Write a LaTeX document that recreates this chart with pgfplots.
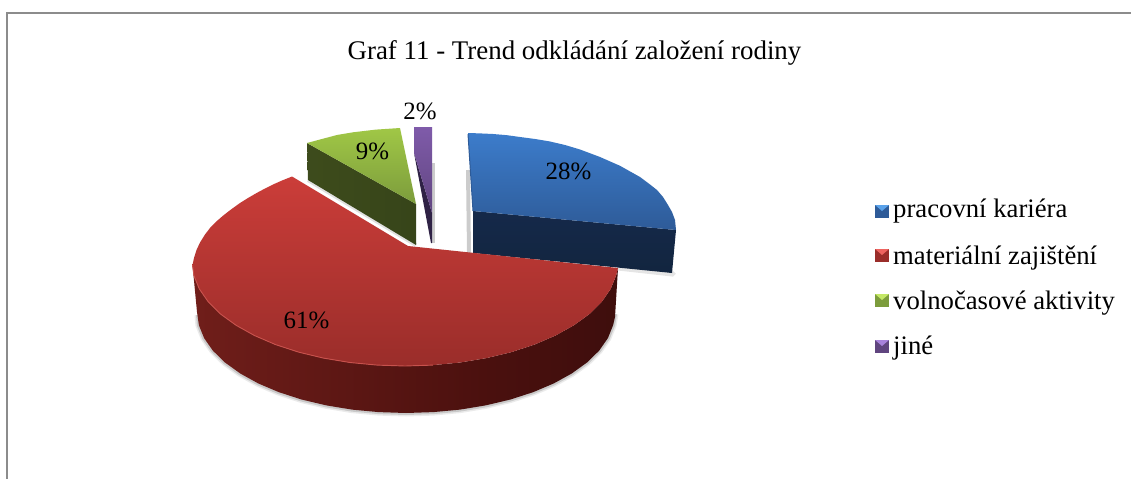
\documentclass[border=0pt]{standalone}
\usepackage{pgfplots}
\pgfplotsset{compat=1.18}
\usepackage{fontspec}
\setmainfont{Liberation Serif}
\definecolor{rs0}{HTML}{8E2F2A}
\definecolor{rs1}{HTML}{701E1A}
\definecolor{rs2}{HTML}{4A100E}
\definecolor{rs3}{HTML}{3C0D0C}
\definecolor{rs4}{HTML}{481410}
\pgfdeclarehorizontalshading{redside}{100bp}{color(0bp)=(rs0);color(25bp)=(rs1);color(60bp)=(rs2);color(78bp)=(rs3);color(100bp)=(rs4)}
\definecolor{gs0}{HTML}{414F1D}
\definecolor{gs1}{HTML}{334118}
\pgfdeclarehorizontalshading{greenside}{100bp}{color(0bp)=(gs0);color(100bp)=(gs1)}
\definecolor{Gtop}{HTML}{A0C746}
\definecolor{Gbot}{HTML}{7C9C3C}
\definecolor{Ptop}{HTML}{7F5BAA}
\definecolor{Pbot}{HTML}{60457F}
\definecolor{PurpDark}{HTML}{2F2245}
\definecolor{Btop}{HTML}{3C7CCB}
\definecolor{Bbot}{HTML}{2E5B98}
\definecolor{Bdark1}{HTML}{15294A}
\definecolor{Bdark2}{HTML}{12253F}
\definecolor{Rtop}{HTML}{CB3D39}
\definecolor{Rbot}{HTML}{9A2D2A}
\definecolor{Rrim}{HTML}{C8524D}
\definecolor{BL}{HTML}{5AA2EA}
\definecolor{RL}{HTML}{EE6460}
\definecolor{GL}{HTML}{C4E866}
\definecolor{PL}{HTML}{A882DC}
\definecolor{Frame}{HTML}{8C8C8C}
\newcommand{\Px}[1]{\fontsize{#1}{#1}\selectfont}
\begin{document}
\begin{tikzpicture}
\begin{axis}[
  scale only axis, width=1131bp, height=479bp,
  xmin=0, xmax=1131, ymin=0, ymax=479, y dir=reverse,
  axis lines=none, clip=true,
  every axis plot/.append style={draw=none, mark=none},
]
% page background
\addplot[fill=white] coordinates {(0,0) (1131,0) (1131,479) (0,479)} --cycle;
% frame
\addplot[draw=Frame, line width=2bp] coordinates {(7,479) (7,13)};
\addplot[draw=Frame, line width=2bp] coordinates {(6,13) (1131,13)};

% soft shadows, stroked under the slices
\addplot[draw=black, draw opacity=0.08, line width=7bp, line join=round] coordinates {(198,315) (198.9,325.2) (204.1,338.1) (212.9,350.7) (225,362.5) (240.3,373.5) (258.2,383.4) (278.7,392.1) (301.5,399.5) (326,405.3) (351.9,409.6) (378.6,412.1) (406,413) (433.4,412.1) (460.1,409.6) (486,405.3) (510.5,399.5) (533.3,392.1) (553.8,383.4) (571.7,373.5) (587,362.5) (599.1,350.7) (607.9,338.1) (613.1,325.2) (615,314)};
\addplot[draw=black, draw opacity=0.14, line width=4bp, line join=round] coordinates {(198,315) (198.9,325.2) (204.1,338.1) (212.9,350.7) (225,362.5) (240.3,373.5) (258.2,383.4) (278.7,392.1) (301.5,399.5) (326,405.3) (351.9,409.6) (378.6,412.1) (406,413) (433.4,412.1) (460.1,409.6) (486,405.3) (510.5,399.5) (533.3,392.1) (553.8,383.4) (571.7,373.5) (587,362.5) (599.1,350.7) (607.9,338.1) (613.1,325.2) (615,314)};
\addplot[draw=black, draw opacity=0.10, line width=5bp] coordinates {(618,268) (672,274) (674,272)};
\addplot[draw=black, draw opacity=0.20, line width=4bp] coordinates {(468,170) (469,253)};
\addplot[draw=black, draw opacity=0.20, line width=4bp] coordinates {(433,163) (433,243)};
\addplot[draw=black, draw opacity=0.12, line width=4bp] coordinates {(308,180) (416,245)};

% green slice
\addplot[shading=greenside] coordinates {(307,143) (416,204) (416,245) (308,180)} --cycle;
\addplot[shade, top color=Gtop, bottom color=Gbot] coordinates {(307,143) (320,139.5) (337,135) (353,132.3) (376,129.6) (400,128) (416,204)} --cycle;

% purple slice
\addplot[fill=PurpDark] coordinates {(414,153) (432,213) (432,243) (431,243)} --cycle;
\addplot[shade, top color=Ptop, bottom color=Pbot] coordinates {(414,127) (432,127) (432,213) (414,153)} --cycle;

% blue slice
\addplot[shade, top color=Bdark1, bottom color=Bdark2] coordinates {(473,211) (676,230) (672,273) (473,253)} --cycle;
\addplot[shade, top color=Btop, bottom color=Bbot] coordinates {(468,133) (480,133.4) (493,134) (507,135.2) (520,137) (535,139) (550,141.5) (565,145) (580,149.5) (600,157) (620,165.8) (640,177) (650,184.5) (657,190) (663,197) (668,205) (672,212) (675,220) (676,230) (473,211)} --cycle;
\addplot[draw=Bbot, line width=1bp] coordinates {(468,134) (473,211)};

% red slice: side wall
\addplot[shading=redside] coordinates {(618,268) (616.1,275.6) (610.7,288.9) (601.8,301.8) (589.5,314) (573.9,325.3) (555.6,335.5) (534.7,344.5) (511.5,352.1) (486.6,358.1) (460.1,362.5) (432.9,365.1) (405,366) (377.1,365.1) (349.9,362.5) (323.4,358.1) (298.5,352.1) (275.3,344.5) (254.4,335.5) (236.1,325.3) (220.5,314) (208.2,301.8) (199.3,288.9) (193.9,275.6) (192.5,265) (197,312) (198.9,325.2) (204.1,338.1) (212.9,350.7) (225,362.5) (240.3,373.5) (258.2,383.4) (278.7,392.1) (301.5,399.5) (326,405.3) (351.9,409.6) (378.6,412.1) (406,413) (433.4,412.1) (460.1,409.6) (486,405.3) (510.5,399.5) (533.3,392.1) (553.8,383.4) (571.7,373.5) (587,362.5) (599.1,350.7) (607.9,338.1) (613.1,325.2) (615,317)} --cycle;
% red slice: top
\addplot[shade, top color=Rtop, bottom color=Rbot] coordinates {(408,246) (618,268) (616.1,275.6) (610.7,288.9) (601.8,301.8) (589.5,314) (573.9,325.3) (555.6,335.5) (534.7,344.5) (511.5,352.1) (486.6,358.1) (460.1,362.5) (432.9,365.1) (405,366) (377.1,365.1) (349.9,362.5) (323.4,358.1) (298.5,352.1) (275.3,344.5) (254.4,335.5) (236.1,325.3) (220.5,314) (208.2,301.8) (199.3,288.9) (193.9,275.6) (192.5,265) (194,258) (196.5,250) (200,242.5) (205,234.5) (210,228) (216,221.8) (223,215.7) (231,209.5) (240,203) (248,198) (257,192.8) (265,188.5) (273,184.5) (282,180.5) (292,176.5)} --cycle;
% rim highlight
\addplot[draw=Rrim, line width=0.9bp, line join=round] coordinates {(192.5,265) (193.9,275.6) (199.3,288.9) (208.2,301.8) (220.5,314) (236.1,325.3) (254.4,335.5) (275.3,344.5) (298.5,352.1) (323.4,358.1) (349.9,362.5) (377.1,365.1) (405,366) (432.9,365.1)};

% legend swatches
\addplot[fill=Bbot] coordinates {(875,205) (889,205) (889,218) (875,218)} --cycle;
\addplot[fill=BL] coordinates {(875,205) (889,205) (882,211)} --cycle;
\addplot[fill=Rbot] coordinates {(875,249) (889,249) (889,262) (875,262)} --cycle;
\addplot[fill=RL] coordinates {(875,249) (889,249) (882,255)} --cycle;
\addplot[fill=Gbot] coordinates {(875,294) (889,294) (889,307) (875,307)} --cycle;
\addplot[fill=GL] coordinates {(875,294) (889,294) (882,300)} --cycle;
\addplot[fill=Pbot] coordinates {(875,340) (889,340) (889,353) (875,353)} --cycle;
\addplot[fill=PL] coordinates {(875,340) (889,340) (882,346)} --cycle;

% texts
\node[font=\Px{27}, anchor=base, inner sep=0pt] at (axis cs:574.5,60) {Graf 11 - Trend odkládání založení rodiny};
\node[font=\Px{25}, anchor=center] at (axis cs:568.5,171) {28\%};
\node[font=\Px{25}, anchor=center] at (axis cs:306.5,320) {61\%};
\node[font=\Px{25}, anchor=center] at (axis cs:372.5,151) {9\%};
\node[font=\Px{25}, anchor=center] at (axis cs:420,111) {2\%};
\node[font=\Px{26.8}, anchor=base west, inner sep=0pt] at (axis cs:893,217) {pracovní kariéra};
\node[font=\Px{26.8}, anchor=base west, inner sep=0pt] at (axis cs:893,264) {materiální zajištění};
\node[font=\Px{26.8}, anchor=base west, inner sep=0pt] at (axis cs:893,309) {volnočasové aktivity};
\node[font=\Px{26.8}, anchor=base west, inner sep=0pt] at (axis cs:893,354) {jiné};
\end{axis}
\end{tikzpicture}
\end{document}
